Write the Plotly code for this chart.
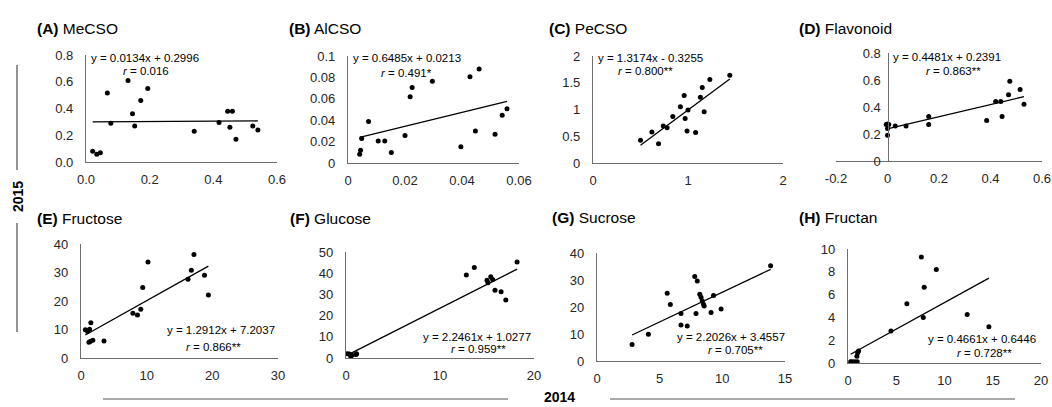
import plotly.graph_objects as go

W, H = 1052, 407
FONT = "Liberation Sans, Arial, sans-serif"

# ---------------- data ----------------
panel_ids = ["A", "B", "C", "D", "E", "F", "G", "H"]
panel_names = ["MeCSO", "AlCSO", "PeCSO", "Flavonoid", "Fructose", "Glucose", "Sucrose", "Fructan"]

A_x = [0.021, 0.034, 0.045, 0.067, 0.078, 0.132, 0.146, 0.153, 0.172, 0.194, 0.34, 0.418, 0.445, 0.46, 0.452, 0.471, 0.524, 0.54]
A_y = [0.08, 0.058, 0.07, 0.515, 0.29, 0.61, 0.36, 0.27, 0.46, 0.55, 0.23, 0.295, 0.38, 0.38, 0.26, 0.17, 0.27, 0.24]

B_x = [0.0041, 0.0044, 0.0048, 0.0072, 0.0106, 0.0129, 0.0152, 0.020, 0.0218, 0.0225, 0.0296, 0.0396, 0.0428, 0.0447, 0.046, 0.0516, 0.0541, 0.0558]
B_y = [0.0081, 0.0119, 0.0228, 0.0388, 0.0206, 0.0206, 0.0097, 0.0256, 0.062, 0.0706, 0.0763, 0.0153, 0.0806, 0.030, 0.0878, 0.0269, 0.0447, 0.0506]

C_x = [0.50, 0.62, 0.69, 0.74, 0.78, 0.84, 0.92, 0.96, 0.97, 0.99, 1.0, 1.08, 1.13, 1.15, 1.17, 1.23, 1.44]
C_y = [0.425, 0.58, 0.36, 0.69, 0.66, 0.87, 1.05, 1.26, 0.83, 0.6, 0.99, 0.57, 1.23, 1.41, 0.96, 1.56, 1.64]

D_x = [-0.005, 0.0, 0.005, 0.0, 0.0, 0.03, 0.072, 0.16, 0.16, 0.385, 0.42, 0.44, 0.445, 0.475, 0.47, 0.515, 0.53]
D_y = [0.27, 0.275, 0.27, 0.24, 0.19, 0.26, 0.26, 0.33, 0.27, 0.30, 0.44, 0.44, 0.33, 0.59, 0.49, 0.53, 0.42]

E_x = [0.66, 1.0, 1.3, 1.5, 1.2, 1.4, 1.8, 3.5, 7.9, 8.6, 9.1, 9.4, 10.2, 16.3, 16.8, 17.2, 18.8, 19.4]
E_y = [9.9, 9.3, 10.1, 12.4, 5.5, 5.8, 6.2, 6.0, 15.7, 15.1, 17.1, 24.7, 33.7, 27.6, 30.8, 36.3, 29.0, 22.1]

F_x = [0.14, 0.35, 0.5, 0.64, 1.06, 1.13, 12.8, 13.65, 15.0, 15.1, 15.4, 15.6, 15.85, 16.5, 17.0, 18.2]
F_y = [2.0, 1.9, 0.8, 1.25, 1.7, 2.0, 39.1, 42.7, 36.7, 35.5, 38.3, 37.0, 32.0, 31.25, 27.3, 45.3]

G_x = [2.8, 4.1, 5.6, 5.85, 6.7, 6.7, 7.2, 7.8, 8.0, 7.9, 8.2, 8.3, 8.4, 8.5, 8.55, 9.1, 9.3, 9.9, 13.85]
G_y = [6.1, 9.9, 25.1, 20.9, 17.6, 13.3, 13.0, 31.3, 29.6, 17.6, 24.7, 23.6, 22.2, 21.0, 20.4, 18.0, 24.3, 19.3, 35.3]

H_x = [0.27, 0.45, 0.7, 0.96, 0.92, 1.0, 1.1, 4.45, 6.1, 7.6, 7.9, 7.8, 9.15, 12.35, 14.6]
H_y = [0.1, 0.1, 0.1, 0.1, 0.6, 0.9, 1.05, 2.8, 5.2, 9.3, 6.65, 4.0, 8.2, 4.25, 3.17]

slopes = [0.0134, 0.6485, 1.3174, 0.4481, 1.2912, 2.2461, 2.2026, 0.4661]
intercepts = [0.2996, 0.0213, -0.3255, 0.2391, 7.2037, 1.0277, 3.4557, 0.6446]
eq_texts = ["y = 0.0134x + 0.2996", "y = 0.6485x + 0.0213", "y = 1.3174x - 0.3255", "y = 0.4481x + 0.2391",
            "y = 1.2912x + 7.2037", "y = 2.2461x + 1.0277", "y = 2.2026x + 3.4557", "y = 0.4661x + 0.6446"]
r_texts = ["0.016", "0.491*", "0.800**", "0.863**", "0.866**", "0.959**", "0.705**", "0.728**"]

x_ticks = [[0.0, 0.2, 0.4, 0.6], [0, 0.02, 0.04, 0.06], [0, 1, 2], [-0.2, 0, 0.2, 0.4, 0.6],
           [0, 10, 20, 30], [0, 10, 20], [0, 5, 10, 15], [0, 5, 10, 15, 20]]
x_ticktext = [["0.0", "0.2", "0.4", "0.6"], ["0", "0.02", "0.04", "0.06"], ["0", "1", "2"],
              ["-0.2", "0", "0.2", "0.4", "0.6"], ["0", "10", "20", "30"], ["0", "10", "20"],
              ["0", "5", "10", "15"], ["0", "5", "10", "15", "20"]]
y_ticks = [[0.0, 0.2, 0.4, 0.6, 0.8], [0, 0.02, 0.04, 0.06, 0.08, 0.1], [0, 0.5, 1, 1.5, 2],
           [0, 0.2, 0.4, 0.6, 0.8], [0, 10, 20, 30, 40], [0, 10, 20, 30, 40, 50],
           [0, 10, 20, 30, 40], [0, 2, 4, 6, 8, 10]]
y_ticktext = [["0.0", "0.2", "0.4", "0.6", "0.8"], ["0", "0.02", "0.04", "0.06", "0.08", "0.1"],
              ["0", "0.5", "1", "1.5", "2"], ["0", "0.2", "0.4", "0.6", "0.8"],
              ["0", "10", "20", "30", "40"], ["0", "10", "20", "30", "40", "50"],
              ["0", "10", "20", "30", "40"], ["0", "2", "4", "6", "8", "10"]]
x_label = "2014"
y_label = "2015"

xs = [A_x, B_x, C_x, D_x, E_x, F_x, G_x, H_x]
ys = [A_y, B_y, C_y, D_y, E_y, F_y, G_y, H_y]

# ---------------- layout (pixel geometry) ----------------
# plot box: x0, x1, ytop, ybottom (pixels)
boxes = [(86, 277, 55, 162), (348, 519, 56, 163), (593, 783, 56, 163), (836, 1042, 53, 161),
         (81, 278, 244, 358), (346, 534, 252, 358), (597, 785, 253, 361), (848, 1041, 249, 363)]
title_pos = [(35, 28), (287, 28), (547, 28), (797, 28), (35, 218), (288, 218), (550, 217), (797, 217)]
eq_pos = [(145, 58), (407, 58), (650, 58), (947, 57), (221, 330), (477, 337), (731, 337), (982, 339)]
r_pos = [(146, 71), (406, 73), (645, 71), (953, 71), (213, 347), (478, 349), (735, 350), (984, 353)]


def px(x):
    return x / W


def py(y):
    return 1 - y / H


AX_COLOR = "#6e6e6e"
TICK_COLOR = "#262626"

fig = go.Figure()
layout = dict(
    width=W, height=H, margin=dict(l=0, r=0, t=0, b=0),
    paper_bgcolor="white", plot_bgcolor="rgba(0,0,0,0)",
    showlegend=False, font=dict(family=FONT, color=TICK_COLOR),
)
annotations = []
shapes = []

for i in range(8):
    k = "" if i == 0 else str(i + 1)
    xa, ya = "x" + k, "y" + k
    x0, x1, yt, yb = boxes[i]
    xr = [x_ticks[i][0], x_ticks[i][-1]]
    yr = [y_ticks[i][0], y_ticks[i][-1]]

    fig.add_trace(go.Scatter(x=xs[i], y=ys[i], mode="markers", xaxis=xa, yaxis=ya,
                             marker=dict(color="black", size=5)))
    lo, hi = min(xs[i]), max(xs[i])
    fig.add_trace(go.Scatter(x=[lo, hi], y=[slopes[i] * lo + intercepts[i], slopes[i] * hi + intercepts[i]],
                             mode="lines", xaxis=xa, yaxis=ya, line=dict(color="black", width=1.3)))

    xaxis = dict(domain=[px(x0), px(x1)], range=xr, anchor=ya, showgrid=False, zeroline=False,
                 showline=True, linecolor=AX_COLOR, linewidth=1.2, ticks="",
                 tickvals=x_ticks[i], ticktext=x_ticktext[i], tickfont=dict(size=13, color=TICK_COLOR),
                 ticklabelstandoff=5, automargin=False, fixedrange=True)
    yaxis = dict(domain=[py(yb), py(yt)], range=yr, anchor=xa, showgrid=False, zeroline=False,
                 showline=True, linecolor=AX_COLOR, linewidth=1.2, ticks="",
                 tickvals=y_ticks[i], ticktext=y_ticktext[i], tickfont=dict(size=13, color=TICK_COLOR),
                 ticklabelstandoff=9, automargin=False, fixedrange=True)
    if i == 3:
        # y axis sits at x = 0
        frac = (0 - xr[0]) / (xr[1] - xr[0])
        yaxis["anchor"] = "free"
        yaxis["position"] = px(x0 + frac * (x1 - x0))
        yaxis["ticklabelstandoff"] = 4
    layout["xaxis" + k] = xaxis
    layout["yaxis" + k] = yaxis

    tx, ty = title_pos[i]
    annotations.append(dict(text=f"<b>({panel_ids[i]})</b> {panel_names[i]}", x=px(tx), y=py(ty),
                            xref="paper", yref="paper", xanchor="left", yanchor="middle",
                            showarrow=False, font=dict(size=15.5, color="black", family=FONT)))
    ex, ey = eq_pos[i]
    annotations.append(dict(text=eq_texts[i], x=px(ex), y=py(ey), xref="paper", yref="paper",
                            xanchor="center", yanchor="middle", showarrow=False,
                            font=dict(size=11.5, color="black", family=FONT)))
    rx, ry = r_pos[i]
    annotations.append(dict(text=f"<i>r</i> = {r_texts[i]}", x=px(rx), y=py(ry), xref="paper", yref="paper",
                            xanchor="center", yanchor="middle", showarrow=False,
                            font=dict(size=11.5, color="black", family=FONT)))

# outer axis titles with decorative rules
annotations.append(dict(text=f"<b>{y_label}</b>", x=px(18), y=py(197), xref="paper", yref="paper",
                        textangle=-90, showarrow=False, xanchor="center", yanchor="middle",
                        font=dict(size=14, color="black", family=FONT)))
annotations.append(dict(text=f"<b>{x_label}</b>", x=px(559), y=py(397), xref="paper", yref="paper",
                        showarrow=False, xanchor="center", yanchor="middle",
                        font=dict(size=14, color="black", family=FONT)))
RULE = "#8c8c8c"
for (a, b) in [(65, 170), (223, 332)]:
    shapes.append(dict(type="line", xref="paper", yref="paper", x0=px(17), x1=px(17), y0=py(a), y1=py(b),
                       line=dict(color="#5a5a5a", width=1.3)))
for (a, b) in [(103, 508), (610, 1015)]:
    shapes.append(dict(type="line", xref="paper", yref="paper", x0=px(a), x1=px(b), y0=py(399), y1=py(399),
                       line=dict(color=RULE, width=1.6)))

layout["annotations"] = annotations
layout["shapes"] = shapes
fig.update_layout(**layout)
fig.write_html("out.html")
